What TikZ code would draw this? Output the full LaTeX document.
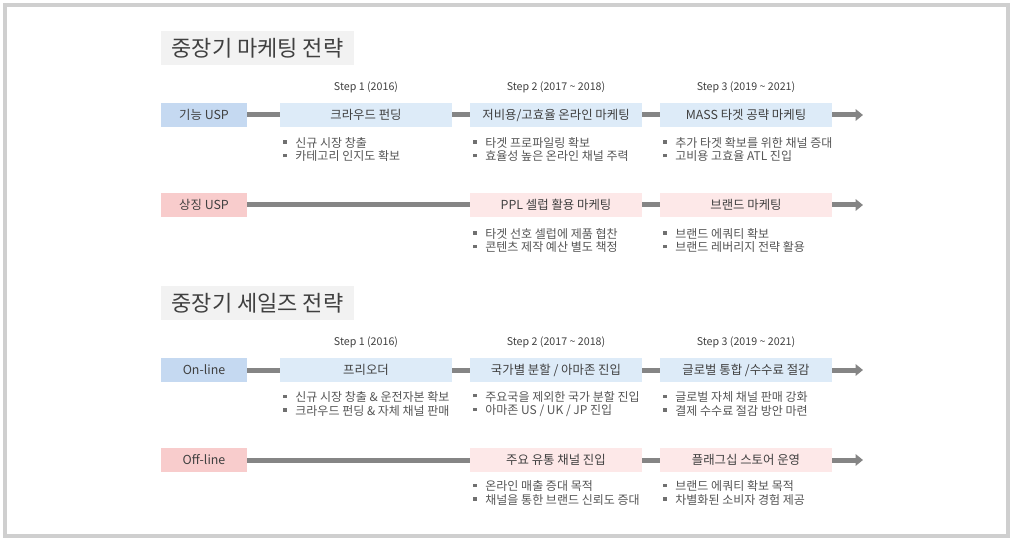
\documentclass[tikz,border=0pt]{standalone}
\usepackage{fontspec}
\setmainfont{Noto Sans CJK KR}
\usetikzlibrary{arrows.meta}
\definecolor{txt}{HTML}{404040}
\definecolor{bultxt}{HTML}{555555}
\definecolor{bulsq}{HTML}{707070}
\definecolor{titlebg}{HTML}{F2F2F2}
\definecolor{labblue}{HTML}{C5D9F1}
\definecolor{stepblue}{HTML}{DDEBF8}
\definecolor{labpink}{HTML}{F8CCCC}
\definecolor{steppink}{HTML}{FDE8E8}
\definecolor{conncol}{HTML}{858585}
\definecolor{framecol}{HTML}{CFCFCF}
\newcommand\bsq{\textcolor{bulsq}{\rule[0.3em]{2.6pt}{2.6pt}}\hspace{6.5pt}}
\begin{document}
\begin{tikzpicture}[x=0.75pt,y=-0.75pt,
  frame/.style={draw=framecol,line width=3pt},
  titlebox/.style={fill=titlebg,minimum width=144.75pt,minimum height=25.5pt,inner sep=0pt,text=txt,font=\fontsize{16.5}{18}\selectfont},
  lab/.style={minimum width=64.5pt,minimum height=18pt,inner sep=0pt,text=txt,font=\fontsize{9.3}{11}\selectfont},
  labA/.style={lab,fill=labblue},
  labB/.style={lab,fill=labpink},
  stepbox/.style={minimum width=129pt,minimum height=18pt,inner sep=0pt,text=txt,font=\fontsize{9.3}{11}\selectfont},
  stepA/.style={stepbox,fill=stepblue},
  stepB/.style={stepbox,fill=steppink},
  steplbl/.style={inner sep=0pt,text=txt,font=\fontsize{8}{10}\selectfont},
  bul/.style={anchor=west,inner sep=0pt,align=left,text=bultxt,font=\fontsize{9}{10.3}\selectfont},
  conn/.style={draw=conncol,line width=3.75pt},
  connarr/.style={conn,-{Triangle[length=5.5pt,width=8.5pt]}}]
\useasboundingbox (0,0) rectangle (1012,538);
\draw[frame] (5,5) rectangle (1008,536);

% ---------- Section 1 ----------
\node[titlebox] (t1) at (257.5,48) {중장기 마케팅 전략};
\node[steplbl] (h11) at (366,87) {Step 1 (2016)};
\node[steplbl] (h12) at (556,87) {Step 2 (2017 \textasciitilde{} 2018)};
\node[steplbl] (h13) at (746,87) {Step 3 (2019 \textasciitilde{} 2021)};

\node[labA] (la) at (204,115) {기능 USP};
\node[stepA] (a1) at (366,115) {크라우드 펀딩};
\node[stepA] (a2) at (556,115) {저비용/고효율 온라인 마케팅};
\node[stepA] (a3) at (746,115) {MASS 타겟 공략 마케팅};
\coordinate (ae) at (863,115);
\draw[conn] (la.east) -- (a1.west);
\draw[conn] (a1.east) -- (a2.west);
\draw[conn] (a2.east) -- (a3.west);
\draw[connarr] (a3.east) -- (ae);
\node[bul] (ba1) at (283,149.5) {\bsq 신규 시장 창출\\\bsq 카테고리 인지도 확보};
\node[bul] (ba2) at (473,149.5) {\bsq 타겟 프로파일링 확보\\\bsq 효율성 높은 온라인 채널 주력};
\node[bul] (ba3) at (663,149.5) {\bsq 추가 타겟 확보를 위한 채널 증대\\\bsq 고비용 고효율 ATL 진입};

\node[labB] (lb) at (204,205) {상징 USP};
\node[stepB] (b2) at (556,205) {PPL 셀럽 활용 마케팅};
\node[stepB] (b3) at (746,205) {브랜드 마케팅};
\coordinate (be) at (863,205);
\draw[conn] (lb.east) -- (b2.west);
\draw[conn] (b2.east) -- (b3.west);
\draw[connarr] (b3.east) -- (be);
\node[bul] (bb2) at (473,240.5) {\bsq 타겟 선호 셀럽에 제품 협찬\\\bsq 콘텐츠 제작 예산 별도 책정};
\node[bul] (bb3) at (663,240.5) {\bsq 브랜드 에쿼티 확보\\\bsq 브랜드 레버리지 전략 활용};

% ---------- Section 2 ----------
\node[titlebox] (t2) at (257.5,303) {중장기 세일즈 전략};
\node[steplbl] (h21) at (366,342) {Step 1 (2016)};
\node[steplbl] (h22) at (556,342) {Step 2 (2017 \textasciitilde{} 2018)};
\node[steplbl] (h23) at (746,342) {Step 3 (2019 \textasciitilde{} 2021)};

\node[labA] (lc) at (204,370) {On-line};
\node[stepA] (c1) at (366,370) {프리오더};
\node[stepA] (c2) at (556,370) {국가별 분할 / 아마존 진입};
\node[stepA] (c3) at (746,370) {글로벌 통합 /수수료 절감};
\coordinate (ce) at (863,370);
\draw[conn] (lc.east) -- (c1.west);
\draw[conn] (c1.east) -- (c2.west);
\draw[conn] (c2.east) -- (c3.west);
\draw[connarr] (c3.east) -- (ce);
\node[bul] (bc1) at (283,404) {\bsq 신규 시장 창출 \& 운전자본 확보\\\bsq 크라우드 펀딩 \& 자체 채널 판매};
\node[bul] (bc2) at (473,404) {\bsq 주요국을 제외한 국가 분할 진입\\\bsq 아마존 US / UK / JP 진입};
\node[bul] (bc3) at (663,404) {\bsq 글로벌 자체 채널 판매 강화\\\bsq 결제 수수료 절감 방안 마련};

\node[labB] (ld) at (204,460) {Off-line};
\node[stepB] (d2) at (556,460) {주요 유통 채널 진입};
\node[stepB] (d3) at (746,460) {플래그십 스토어 운영};
\coordinate (de) at (863,460);
\draw[conn] (ld.east) -- (d2.west);
\draw[conn] (d2.east) -- (d3.west);
\draw[connarr] (d3.east) -- (de);
\node[bul] (bd2) at (473,493) {\bsq 온라인 매출 증대 목적\\\bsq 채널을 통한 브랜드 신뢰도 증대};
\node[bul] (bd3) at (663,493) {\bsq 브랜드 에쿼티 확보 목적\\\bsq 차별화된 소비자 경험 제공};
\end{tikzpicture}
\end{document}
